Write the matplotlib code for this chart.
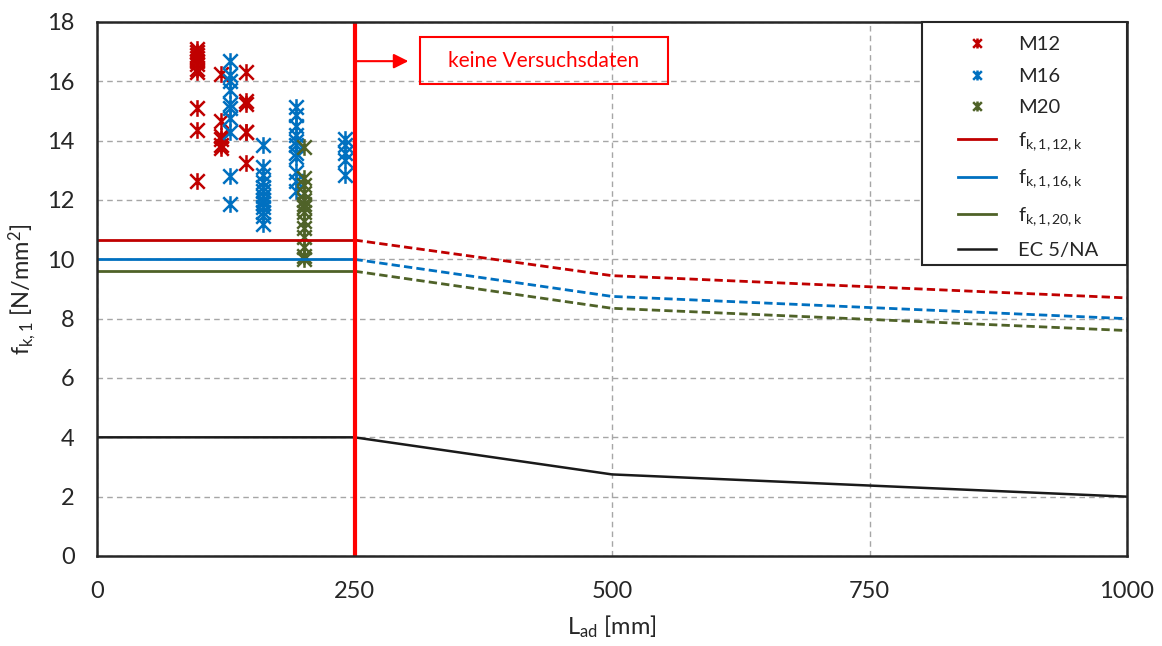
import matplotlib
matplotlib.use('Agg')
import matplotlib.pyplot as plt
from matplotlib.path import Path
from matplotlib.patches import Rectangle
import numpy as np

plt.rcParams['font.family'] = ['Lato', 'DejaVu Sans']
plt.rcParams['mathtext.fontset'] = 'custom'
plt.rcParams['mathtext.rm'] = 'Lato'
plt.rcParams['mathtext.it'] = 'Lato'

# test data (L_ad in mm, f_k,1 in N/mm2)
m12_L = [97]*11 + [120]*6 + [145]*6
m12_f = [17.1, 17.0, 16.9, 16.8, 16.7, 16.6, 16.4, 16.3, 15.1, 14.35, 12.65,
         16.25, 14.65, 14.15, 14.05, 13.85, 13.75,
         16.3, 15.35, 15.25, 14.3, 14.3, 13.25]
m16_L = [129]*10 + [161]*13 + [193]*11 + [241]*5
m16_f = [16.7, 16.2, 16.0, 15.7, 15.25, 15.1, 14.75, 14.3, 12.8, 11.85,
         13.85, 13.1, 12.85, 12.6, 12.45, 12.3, 12.15, 12.0, 11.9, 11.75, 11.6, 11.45, 11.2,
         15.15, 14.85, 14.5, 14.2, 14.0, 13.85, 13.6, 13.45, 12.95, 12.65, 12.3,
         14.05, 13.85, 13.6, 13.35, 12.85]
m20_L = [201]*14
m20_f = [13.8, 12.75, 12.5, 12.25, 12.0, 11.85, 11.75, 11.6, 11.3, 11.05, 10.75, 10.4, 10.1, 10.0]

# characteristic values
L_solid = [0, 250]
L_dash = [250, 500, 1000]
f12 = [10.65, 9.45, 8.7]
f16 = [10.0, 8.75, 8.0]
f20 = [9.6, 8.35, 7.6]
L_ec5 = [0, 250, 500, 1000]
f_ec5 = [4.0, 4.0, 2.75, 2.0]

c12 = '#C00000'
c16 = '#0070C0'
c20 = '#4F6228'
cec = '#1A1A1A'
txt = '#262626'

star = Path([(-1, -1), (1, 1), (-1, 1), (1, -1), (0, -1.15), (0, 1.15)],
            [Path.MOVETO, Path.LINETO, Path.MOVETO, Path.LINETO, Path.MOVETO, Path.LINETO])

fig = plt.figure(figsize=(11.62, 6.46), dpi=100)
ax = fig.add_axes([97/1162, 1-556/646, (1127-97)/1162, (556-22)/646])

ax.grid(True, color='#A6A6A6', linestyle=(0, (4, 3)), linewidth=1)
ax.set_axisbelow(True)

for L, f, c, lab in [(m12_L, m12_f, c12, 'M12'), (m16_L, m16_f, c16, 'M16'), (m20_L, m20_f, c20, 'M20')]:
    ax.plot(L, f, linestyle='none', marker=star, markersize=12, mfc='none', mec=c, mew=1.8, label=lab)

for f, c, lab in [(f12, c12, r'f$_{\mathrm{k,1,12,k}}$'), (f16, c16, r'f$_{\mathrm{k,1,16,k}}$'),
                  (f20, c20, r'f$_{\mathrm{k,1,20,k}}$')]:
    ax.plot(L_solid, [f[0], f[0]], color=c, lw=2, label=lab)
    ax.plot(L_dash, f, color=c, lw=2, linestyle=(0, (3, 1.5)))
ax.plot(L_ec5, f_ec5, color=cec, lw=1.8, label='EC 5/NA')

ax.axvline(250, color='#FF0000', lw=3)
ax.annotate('', xy=(305, 16.68), xytext=(250, 16.68),
            arrowprops=dict(arrowstyle='-|>', color='#FF0000', lw=1.5, mutation_scale=22))
ax.add_patch(Rectangle((314, 15.9), 240, 1.6, fill=False, edgecolor='#FF0000', lw=1.5, zorder=5))
ax.text(434, 16.7, 'keine Versuchsdaten', color='#FF0000', fontsize=15, ha='center', va='center', zorder=6)

ax.set_xlim(0, 1000)
ax.set_ylim(0, 18)
ax.set_xticks(np.arange(0, 1001, 250))
ax.set_yticks(np.arange(0, 19, 2))
ax.tick_params(labelsize=17, length=0, colors=txt)
ax.tick_params(axis='y', pad=16)
ax.tick_params(axis='x', pad=18)
for s in ax.spines.values():
    s.set_color(txt)
    s.set_linewidth(1.8)

ax.set_xlabel(r'L$_{\mathrm{ad}}$ [mm]', fontsize=17, color=txt, labelpad=8)
ax.set_ylabel(r'f$_{\mathrm{k,1}}$ [N/mm$^{\mathrm{2}}$]', fontsize=17, color=txt, labelpad=6)

# legend box in the upper right corner
x0 = (922-97)/1030
y0 = (556-265)/534
ax.add_patch(Rectangle((x0, y0), 1-x0, 1-y0, transform=ax.transAxes, facecolor='white',
                       edgecolor=txt, lw=1.5, zorder=8, clip_on=False))
leg = ax.legend(loc='upper left', bbox_to_anchor=((958-97)/1030, (556-36)/534), fontsize=14.5,
                frameon=False, borderaxespad=0, borderpad=0, markerscale=0.6, handlelength=1.9,
                labelspacing=0.72, handletextpad=1.1)
leg.set_zorder(9)
for t in leg.get_texts():
    t.set_color(txt)

fig.savefig('out.png', dpi=100)
